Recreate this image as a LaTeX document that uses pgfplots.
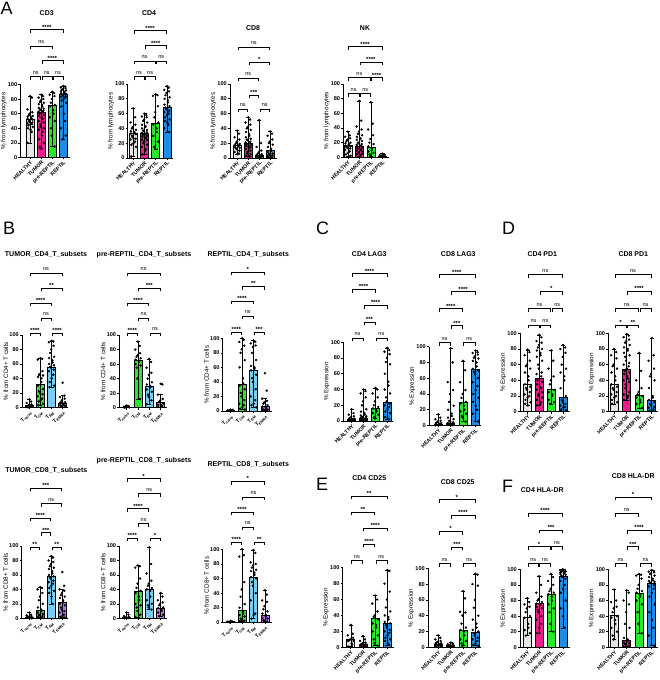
\documentclass[border=0pt]{standalone}
\usepackage{fontspec}
\setmainfont{Liberation Sans}
\usepackage{pgfplots}
\pgfplotsset{compat=1.18}

\definecolor{cH}{RGB}{230,230,230}
\definecolor{cT}{RGB}{240,30,140}
\definecolor{cP}{RGB}{40,235,40}
\definecolor{cR}{RGB}{28,140,232}
\definecolor{cN}{RGB}{215,215,215}
\definecolor{cEM}{RGB}{120,205,245}
\definecolor{cRA}{RGB}{190,120,245}

\newcommand{\fs}[1]{\fontsize{#1}{#1}\selectfont}

\pgfplotsset{
 prism/.style={
  scale only axis, anchor=south west,
  axis lines*=left, ymin=0, ymax=100, ytick={0,20,40,60,80,100},
  xtick={0,1,2,3}, clip=false,
  tick align=outside, major tick length=2pt,
  axis line style={line width=0.6pt},
  tick style={black, line width=0.6pt},
  /pgf/number format/assume math mode=true,
  yticklabel style={font=\bfseries\fs{5.6}, inner sep=1pt},
  xticklabel style={font=\bfseries\fs{5.3}, rotate=45, anchor=north east, inner sep=0.5pt},
  ylabel style={font=\fs{6.3}, inner sep=0pt},
 },
 grpA/.style={xticklabels={HEALTHY,TUMOR,pre-REPTIL,REPTIL}},
 grpB/.style={xticklabels={T\textsubscript{naive},T\textsubscript{CM},T\textsubscript{EM},T\textsubscript{EMRA}}},
}

% x, bar height, colour, error low, error high, points
\newcommand{\grp}[6]{%
 \addplot[ybar, bar shift=0pt, bar width=8pt, fill=#3, draw=black, line width=0.6pt] coordinates {(#1,#2)};
 \addplot[black, line width=0.5pt, mark=-, mark size=2pt, mark options={line width=0.5pt}] coordinates {(#1,#4) (#1,#5)};
 \addplot[only marks, mark=*, mark size=1pt, black] table[row sep=\\, header=false, y index=0, x expr={#1+0.24*sin(\coordindex*137.5)}] {#6};
}
\newcommand{\brN}[3]{%
 \draw[line width=0.5pt] ([yshift=#3pt-3.5pt]axis cs:#1+0.05,100) -- ([yshift=#3pt]axis cs:#1+0.05,100) -- ([yshift=#3pt]axis cs:#2-0.05,100) -- ([yshift=#3pt-3.5pt]axis cs:#2-0.05,100);
 \node[font=\fs{5.5}, anchor=base, inner sep=0pt] at ([yshift=#3pt+2.2pt]axis cs:{(#1+#2)/2},100) {ns};}
\newcommand{\brS}[4]{%
 \draw[line width=0.5pt] ([yshift=#3pt-3.5pt]axis cs:#1+0.05,100) -- ([yshift=#3pt]axis cs:#1+0.05,100) -- ([yshift=#3pt]axis cs:#2-0.05,100) -- ([yshift=#3pt-3.5pt]axis cs:#2-0.05,100);
 \node[font=\bfseries\fs{6}, anchor=base, inner sep=0pt] at ([yshift=#3pt+0.3pt]axis cs:{(#1+#2)/2},100) {#4};}

\begin{document}
\begin{tikzpicture}
\useasboundingbox (0,0) rectangle (660pt,680pt);

% ---------------- panel letters
\node[font=\fs{18}, anchor=base west, inner sep=0pt] at (0.5pt,665pt) {A};
\node[font=\fs{18}, anchor=base west, inner sep=0pt] at (3pt,445pt) {B};
\node[font=\fs{18}, anchor=base west, inner sep=0pt] at (316pt,445pt) {C};
\node[font=\fs{18}, anchor=base west, inner sep=0pt] at (502pt,445pt) {D};
\node[font=\fs{18}, anchor=base west, inner sep=0pt] at (316pt,189pt) {E};
\node[font=\fs{18}, anchor=base west, inner sep=0pt] at (502pt,187pt) {F};

% ---------------- titles
\begin{scope}[every node/.style={font=\bfseries\fs{7}, inner sep=0pt}]
\node at (46.7pt,667.3pt) {CD3};
\node at (149pt,666.7pt) {CD4};
\node at (253pt,651.7pt) {CD8};
\node at (365pt,651.7pt) {NK};
\node at (46pt,425.7pt) {TUMOR\_CD4\_T\_subsets};
\node at (144pt,425.7pt) {pre-REPTIL\_CD4\_T\_subsets};
\node at (248.3pt,425.7pt) {REPTIL\_CD4\_T\_subsets};
\node at (46.3pt,209.3pt) {TUMOR\_CD8\_T\_subsets};
\node at (144pt,219.3pt) {pre-REPTIL\_CD8\_T\_subsets};
\node at (248.3pt,216pt) {REPTIL\_CD8\_T\_subsets};
\node at (369.3pt,425.7pt) {CD4 LAG3};
\node at (458.3pt,425.7pt) {CD8 LAG3};
\node at (542.3pt,425.7pt) {CD4 PD1};
\node at (633.3pt,425.7pt) {CD8 PD1};
\node at (369.3pt,202.3pt) {CD4 CD25};
\node at (457.7pt,198.3pt) {CD8 CD25};
\node at (542.3pt,190pt) {CD4 HLA-DR};
\node at (633.3pt,204pt) {CD8 HLA-DR};
\end{scope}

% ================= A: CD3
\begin{axis}[prism, grpA, at={(20.4pt,522.5pt)}, width=49.7pt, height=73pt, xmin=-0.88, xmax=3.6, ylabel={\% from lymphocytes}]
\grp{0}{53}{cH}{20}{84}{84\\82\\66\\62\\60\\58\\57\\56\\55\\54\\53\\52\\50\\49\\48\\47\\46\\45\\44\\42\\40\\38\\35\\20\\}
\grp{1}{62}{cT}{12}{86}{86\\84\\82\\80\\78\\76\\75\\73\\72\\70\\68\\67\\66\\65\\64\\63\\62\\61\\60\\58\\57\\55\\53\\50\\48\\45\\42\\40\\38\\35\\30\\25\\20\\15\\12\\}
\grp{2}{72}{cP}{15}{90}{90\\88\\86\\84\\80\\75\\72\\70\\65\\60\\55\\50\\40\\30\\15\\}
\grp{3}{86}{cR}{25}{98}{98\\97\\96\\95\\94\\93\\92\\91\\90\\89\\88\\87\\86\\85\\84\\83\\82\\80\\78\\75\\70\\60\\50\\40\\30\\25\\}
\brN{0}{1}{8} \brN{1}{2}{8} \brN{2}{3}{8}
\brS{1}{3}{24}{****}
\brN{0}{2}{38.5}
\brS{0}{3}{55}{****}
\end{axis}

% ================= A: CD4
\begin{axis}[prism, grpA, at={(127.7pt,522pt)}, width=45.4pt, height=74pt, xmin=-0.5, xmax=3.55, ylabel={\% from lymphocytes}]
\grp{0}{33}{cH}{2}{67}{67\\55\\48\\45\\42\\40\\38\\36\\35\\34\\33\\32\\30\\28\\26\\25\\22\\20\\18\\15\\2\\}
\grp{1}{33}{cT}{5}{60}{60\\58\\56\\55\\52\\50\\48\\45\\43\\42\\40\\38\\37\\36\\35\\34\\33\\32\\31\\30\\29\\28\\27\\25\\24\\22\\20\\18\\15\\12\\10\\5\\}
\grp{2}{47}{cP}{12}{86}{86\\85\\84\\70\\62\\55\\48\\45\\40\\35\\30\\22\\15\\12\\}
\grp{3}{68}{cR}{35}{97}{97\\95\\92\\90\\88\\85\\82\\80\\78\\75\\72\\70\\68\\66\\64\\62\\60\\58\\55\\52\\50\\48\\45\\40\\35\\}
\brN{0}{1}{7.3} \brN{1}{2}{7.3}
\brN{0}{2}{23} \brN{2}{3}{23}
\brS{1}{3}{38.3}{****}
\brS{0}{3}{53.3}{****}
\end{axis}

% ================= A: CD8
\begin{axis}[prism, grpA, at={(230pt,522pt)}, width=46.6pt, height=74pt, xmin=-0.66, xmax=3.58, ylabel={\% from lymphocytes}]
\grp{0}{17}{cH}{5}{37}{37\\33\\28\\25\\22\\20\\19\\18\\17\\16\\15\\14\\13\\12\\10\\8\\6\\5\\}
\grp{1}{20}{cT}{2}{55}{55\\52\\48\\45\\42\\40\\38\\35\\32\\30\\28\\26\\25\\24\\22\\21\\20\\19\\18\\17\\16\\15\\14\\12\\10\\8\\6\\5\\3\\2\\}
\grp{2}{4}{cP}{1}{51}{51\\20\\15\\10\\8\\6\\5\\4\\3\\3\\2\\2\\1\\1\\}
\grp{3}{11}{cR}{1}{36}{36\\33\\30\\25\\22\\20\\18\\15\\12\\10\\8\\6\\5\\4\\3\\2\\1\\}
\brN{0}{1}{-25} \brN{2}{3}{-25}
\brS{1}{2}{-11}{***}
\brN{0}{2}{6}
\brS{1}{3}{22}{*}
\brN{0}{3}{37}
\end{axis}

% ================= A: NK
\begin{axis}[prism, grpA, at={(343.3pt,522.7pt)}, width=46pt, height=73.3pt, xmin=-0.4, xmax=3.6, ylabel={\% from lymphocytes}]
\grp{0}{16}{cH}{2}{35}{35\\30\\28\\26\\24\\22\\20\\19\\18\\17\\16\\15\\14\\13\\12\\10\\8\\6\\4\\2\\}
\grp{1}{15}{cT}{2}{77}{77\\50\\42\\38\\35\\32\\30\\28\\26\\25\\24\\22\\20\\19\\18\\17\\16\\15\\14\\13\\12\\11\\10\\9\\8\\7\\6\\5\\4\\3\\2\\}
\grp{2}{14}{cP}{2}{75}{75\\46\\38\\30\\25\\20\\18\\15\\12\\10\\8\\6\\4\\2\\}
\grp{3}{2}{cR}{1}{5}{5\\4\\3\\3\\2\\2\\1\\1\\1\\}
\brN{0}{1}{-9.3} \brN{1}{2}{-9.3}
\brN{0}{2}{6.3} \brS{2}{3}{6.3}{****}
\brS{1}{3}{22}{****}
\brS{0}{3}{37.3}{****}
\end{axis}

% ================= B: TUMOR CD4
\begin{axis}[prism, grpB, at={(22pt,272.7pt)}, width=46.2pt, height=72.3pt, xmin=-0.66, xmax=3.5, ylabel={\% from CD4+ T cells}]
\grp{0}{3}{cN}{0}{11}{11\\8\\6\\4\\3\\2\\2\\1\\1\\1\\0.5\\0.5\\0\\}
\grp{1}{32}{cP}{3}{68}{68\\67\\66\\50\\46\\45\\44\\42\\40\\35\\30\\25\\22\\20\\18\\15\\12\\10\\8\\5\\3\\}
\grp{2}{56}{cEM}{28}{92}{92\\91\\90\\85\\80\\75\\70\\68\\65\\62\\60\\58\\56\\55\\52\\50\\45\\40\\35\\30\\28\\}
\grp{3}{6}{cRA}{0.5}{16}{34\\16\\14\\12\\10\\8\\7\\6\\5\\4\\3\\2\\1\\1\\0.5\\}
\brS{0}{1}{2}{****} \brS{2}{3}{2}{****}
\brN{1}{2}{17}
\brS{0}{2}{32}{****}
\brS{1}{3}{47}{**}
\brN{0}{3}{62}
\end{axis}

% ================= B: pre-REPTIL CD4
\begin{axis}[prism, grpB, at={(119.3pt,272.3pt)}, width=47.5pt, height=72.7pt, xmin=-0.65, xmax=3.55, ylabel={\% from CD4+ T cells}]
\grp{0}{1}{cN}{0}{3}{3\\2\\1.5\\1\\1\\0.5\\0.5\\0\\}
\grp{1}{65}{cP}{12}{91}{91\\85\\80\\75\\72\\70\\68\\66\\65\\63\\60\\58\\55\\40\\12\\}
\grp{2}{30}{cEM}{5}{67}{67\\63\\55\\48\\45\\40\\35\\32\\30\\28\\25\\22\\18\\15\\10\\5\\}
\grp{3}{8}{cRA}{1}{18}{33\\32\\18\\12\\10\\8\\6\\4\\3\\2\\1\\}
\brS{0}{1}{2}{****} \brN{2}{3}{2}
\brN{1}{2}{17}
\brS{0}{2}{32}{****}
\brS{1}{3}{47}{***}
\brN{0}{3}{62}
\end{axis}

% ================= B: REPTIL CD4
\begin{axis}[prism, grpB, at={(222.7pt,269pt)}, width=49pt, height=72.7pt, xmin=-0.7, xmax=3.6, ylabel={\% from CD4+ T cells}]
\grp{0}{1}{cN}{0}{2}{2\\1.5\\1\\1\\0.5\\0.5\\0\\}
\grp{1}{37}{cP}{2}{100}{100\\98\\95\\90\\85\\80\\70\\60\\45\\38\\35\\30\\25\\20\\15\\10\\8\\5\\3\\2\\}
\grp{2}{56}{cEM}{5}{97}{97\\95\\93\\90\\88\\80\\70\\62\\60\\58\\56\\50\\45\\40\\30\\20\\15\\10\\8\\5\\}
\grp{3}{6}{cRA}{0.5}{17}{52\\28\\17\\14\\12\\10\\8\\6\\5\\4\\3\\2\\1\\1\\0.5\\}
\brS{0}{1}{6.3}{****} \brS{2}{3}{6.3}{***}
\brN{1}{2}{22.3}
\brS{0}{2}{37.3}{****}
\brS{1}{3}{52}{**}
\brS{0}{3}{66.3}{*}
\end{axis}

% ================= B: TUMOR CD8
\begin{axis}[prism, grpB, at={(21.7pt,61.7pt)}, width=46.6pt, height=72.3pt, xmin=-0.69, xmax=3.55, ylabel={\% from CD8+ T cells}]
\grp{0}{2}{cN}{0}{8}{8\\5\\4\\3\\2\\2\\1\\1\\1\\0.5\\0.5\\0\\}
\grp{1}{11}{cP}{1}{43}{43\\42\\40\\35\\30\\25\\20\\15\\12\\10\\8\\6\\5\\4\\3\\2\\1\\}
\grp{2}{58}{cEM}{20}{86}{86\\84\\80\\78\\75\\72\\70\\68\\65\\62\\60\\58\\57\\55\\52\\50\\48\\45\\42\\38\\35\\30\\20\\}
\grp{3}{22}{cRA}{1}{40}{64\\45\\40\\38\\35\\32\\30\\28\\25\\22\\20\\18\\15\\12\\10\\8\\5\\3\\2\\1\\}
\brS{0}{1}{-1}{**} \brS{2}{3}{-1}{**}
\brS{1}{2}{13.3}{***}
\brS{0}{2}{28}{****}
\brN{1}{3}{42.3}
\brS{0}{3}{58}{***}
\end{axis}

% ================= B: pre-REPTIL CD8
\begin{axis}[prism, grpB, at={(119.3pt,61.7pt)}, width=47.5pt, height=72.3pt, xmin=-0.65, xmax=3.55, ylabel={\% from CD8+ T cells}]
\grp{0}{2}{cN}{0}{8}{8\\5\\3\\2\\1\\1\\0.5\\0\\}
\grp{1}{38}{cP}{2}{73}{73\\72\\70\\55\\48\\42\\38\\35\\30\\25\\20\\18\\15\\10\\5\\2\\}
\grp{2}{40}{cEM}{12}{98}{98\\75\\62\\52\\48\\45\\42\\40\\38\\30\\25\\20\\18\\15\\12\\}
\grp{3}{14}{cRA}{3}{35}{35\\30\\25\\22\\20\\18\\15\\14\\12\\10\\8\\5\\3\\}
\brS{0}{1}{8}{****} \brS{2}{3}{8}{*}
\brN{1}{2}{22.3}
\brS{0}{2}{37.3}{****}
\brN{1}{3}{52.3}
\brS{0}{3}{67.3}{*}
\end{axis}

% ================= B: REPTIL CD8
\begin{axis}[prism, grpB, at={(222.7pt,57.7pt)}, width=49pt, height=73pt, xmin=-0.7, xmax=3.6, ylabel={\% from CD8+ T cells}]
\grp{0}{1}{cN}{0}{2}{2\\1\\1\\0.5\\0.5\\0\\}
\grp{1}{16}{cP}{1}{100}{100\\92\\90\\55\\45\\35\\25\\20\\15\\12\\10\\8\\5\\3\\2\\1\\}
\grp{2}{62}{cEM}{5}{99}{99\\95\\82\\80\\78\\75\\72\\70\\68\\65\\62\\60\\55\\50\\40\\30\\12\\10\\5\\}
\grp{3}{10}{cRA}{1}{44}{44\\38\\30\\28\\22\\18\\15\\12\\10\\8\\6\\5\\3\\2\\1\\}
\brS{0}{1}{7.3}{****} \brS{2}{3}{7.3}{**}
\brN{1}{2}{22.3}
\brS{0}{2}{37.3}{****}
\brN{1}{3}{52.3}
\brS{0}{3}{68}{*}
\end{axis}

% ================= C: CD4 LAG3
\begin{axis}[prism, grpA, at={(343.3pt,259pt)}, width=50pt, height=78.7pt, xmin=-0.7, xmax=3.5, ylabel={\% Expression}]
\grp{0}{2}{cH}{0}{15}{15\\10\\8\\6\\5\\4\\3\\3\\2\\2\\2\\1\\1\\1\\1\\0.5\\0.5\\0\\}
\grp{1}{3}{cT}{0.5}{40}{40\\38\\35\\30\\25\\20\\15\\12\\10\\8\\7\\6\\5\\5\\4\\4\\3\\3\\2\\2\\2\\1\\1\\1\\0.5\\0.5\\}
\grp{2}{16}{cP}{3}{42}{42\\40\\35\\30\\25\\20\\18\\16\\14\\12\\10\\8\\5\\3\\}
\grp{3}{24}{cR}{2}{93}{93\\90\\88\\85\\80\\75\\72\\60\\50\\45\\40\\35\\30\\25\\22\\20\\18\\15\\12\\10\\5\\3\\2\\}
\brN{0}{1}{4.3} \brN{2}{3}{4.3}
\brS{1}{2}{20.3}{***}
\brS{1}{3}{37}{****}
\brS{0}{2}{53}{****}
\brS{0}{3}{68.6}{****}
\end{axis}

% ================= C: CD8 LAG3
\begin{axis}[prism, grpA, at={(429pt,254.5pt)}, width=52.1pt, height=78.8pt, xmin=-0.75, xmax=3.45, ylabel={\% Expression}]
\grp{0}{2}{cH}{0}{14}{14\\10\\8\\6\\5\\4\\3\\3\\2\\2\\1\\1\\1\\0.5\\0.5\\0\\}
\grp{1}{3}{cT}{0.5}{98}{98\\80\\55\\45\\40\\30\\25\\20\\15\\12\\10\\8\\6\\5\\4\\3\\3\\2\\2\\1\\1\\0.5\\0.5\\}
\grp{2}{30}{cP}{5}{82}{82\\70\\55\\45\\40\\35\\30\\28\\25\\20\\18\\15\\12\\10\\5\\}
\grp{3}{71}{cR}{5}{95}{95\\93\\92\\90\\88\\86\\85\\82\\80\\75\\72\\70\\68\\65\\60\\55\\50\\45\\40\\35\\30\\25\\20\\15\\5\\}
\brN{0}{1}{4} \brN{2}{3}{4}
\brS{1}{2}{21}{***}
\brS{0}{2}{38}{****}
\brS{1}{3}{55}{****}
\brS{0}{3}{72}{****}
\end{axis}

% ================= D: CD4 PD1
\begin{axis}[prism, grpA, at={(520pt,268.3pt)}, width=50pt, height=78.4pt, xmin=-0.63, xmax=3.57, ylabel={\% Expression}]
\grp{0}{35}{cH}{8}{79}{79\\76\\72\\65\\60\\58\\55\\50\\45\\40\\35\\32\\30\\28\\25\\22\\20\\18\\15\\12\\10\\8\\}
\grp{1}{42}{cT}{8}{98}{98\\95\\90\\88\\85\\82\\80\\78\\75\\72\\70\\65\\60\\55\\50\\48\\45\\42\\40\\38\\35\\32\\30\\28\\25\\22\\20\\18\\15\\12\\10\\8\\}
\grp{2}{28}{cP}{10}{78}{78\\65\\55\\45\\40\\35\\28\\25\\22\\20\\15\\12\\10\\}
\grp{3}{18}{cR}{1}{85}{85\\82\\80\\75\\70\\60\\55\\50\\45\\40\\30\\20\\15\\12\\10\\8\\6\\5\\3\\2\\1\\}
\brN{0}{1}{8.3} \brN{1}{2}{8.3}
\brN{0}{2}{25} \brN{2}{3}{25}
\brS{1}{3}{42}{*}
\brN{0}{3}{58.6}
\end{axis}

% ================= D: CD8 PD1
\begin{axis}[prism, grpA, at={(608.3pt,268.3pt)}, width=49.6pt, height=78.4pt, xmin=-0.47, xmax=3.5, ylabel={\% Expression}]
\grp{0}{35}{cH}{10}{80}{80\\76\\72\\68\\60\\58\\55\\50\\45\\40\\35\\32\\30\\28\\25\\22\\20\\18\\15\\12\\10\\}
\grp{1}{54}{cT}{15}{99}{99\\97\\95\\92\\90\\88\\85\\82\\80\\78\\75\\72\\70\\65\\62\\60\\58\\55\\52\\50\\48\\45\\42\\40\\38\\35\\30\\25\\22\\20\\18\\15\\}
\grp{2}{21}{cP}{5}{75}{75\\52\\40\\30\\25\\22\\20\\18\\15\\12\\10\\5\\}
\grp{3}{14}{cR}{1}{94}{94\\72\\65\\55\\48\\45\\40\\30\\20\\18\\15\\12\\10\\8\\6\\5\\3\\2\\1\\}
\brS{0}{1}{8.3}{*} \brS{1}{2}{8.3}{**}
\brN{0}{2}{25} \brN{2}{3}{25}
\brS{1}{3}{42}{****}
\brN{0}{3}{58.6}
\end{axis}

% ================= E: CD4 CD25
\begin{axis}[prism, grpA, at={(342.7pt,32.7pt)}, width=50.8pt, height=79.6pt, xmin=-0.66, xmax=3.5, ylabel={\% Expression}]
\grp{0}{10}{cH}{1}{28}{28\\17\\15\\12\\10\\9\\8\\8\\5\\3\\1\\}
\grp{1}{4}{cT}{0.5}{14}{14\\10\\8\\6\\5\\4\\4\\3\\3\\2\\2\\1\\1\\0.5\\}
\grp{2}{37}{cP}{2}{65}{65\\60\\55\\45\\40\\38\\35\\30\\28\\25\\20\\15\\10\\5\\2\\}
\grp{3}{30}{cR}{3}{97}{97\\96\\80\\70\\60\\50\\45\\40\\38\\35\\32\\30\\28\\25\\22\\20\\18\\15\\12\\10\\8\\5\\3\\}
\brN{0}{1}{7} \brN{2}{3}{7}
\brS{1}{2}{23.7}{****}
\brS{1}{3}{39.7}{****}
\brS{0}{2}{55.7}{**}
\brS{0}{3}{71.7}{**}
\end{axis}

% ================= E: CD8 CD25
\begin{axis}[prism, grpA, at={(428pt,32.7pt)}, width=53pt, height=79pt, xmin=-0.83, xmax=3.45, ylabel={\% Expression}]
\grp{0}{4}{cH}{0.5}{15}{15\\12\\10\\8\\7\\6\\5\\5\\4\\3\\3\\2\\2\\1\\1\\0.5\\}
\grp{1}{2}{cT}{0.5}{6}{6\\5\\4\\3\\3\\2\\2\\2\\1\\1\\1\\0.5\\0.5\\}
\grp{2}{22}{cP}{2}{71}{71\\62\\45\\44\\40\\30\\25\\22\\20\\15\\10\\8\\5\\2\\}
\grp{3}{19}{cR}{2}{93}{93\\92\\80\\78\\60\\50\\40\\35\\30\\25\\22\\20\\18\\15\\12\\10\\8\\5\\3\\2\\}
\brN{0}{1}{4.6} \brN{2}{3}{4.6}
\brS{1}{2}{21.3}{***}
\brS{0}{2}{37}{*}
\brS{1}{3}{53}{****}
\brS{0}{3}{68.6}{*}
\end{axis}

% ================= F: CD4 HLA-DR
\begin{axis}[prism, grpA, at={(520pt,32.7pt)}, width=49.7pt, height=78pt, xmin=-0.61, xmax=3.57, ylabel={\% Expression}]
\grp{0}{39}{cH}{15}{63}{63\\58\\55\\52\\50\\45\\40\\38\\30\\25\\22\\18\\15\\}
\grp{1}{56}{cT}{18}{91}{91\\80\\70\\65\\62\\60\\58\\56\\55\\54\\52\\50\\48\\45\\40\\35\\30\\25\\18\\}
\grp{2}{68}{cP}{20}{94}{94\\90\\85\\80\\75\\72\\70\\68\\65\\60\\55\\50\\45\\30\\20\\}
\grp{3}{91}{cR}{25}{100}{100\\99\\99\\98\\98\\97\\97\\96\\95\\95\\94\\93\\92\\90\\88\\85\\80\\75\\70\\60\\50\\40\\25\\}
\brN{0}{1}{6} \brN{1}{2}{6}
\brS{0}{2}{22.6}{*} \brN{2}{3}{22.6}
\brS{1}{3}{39.5}{***}
\brS{0}{3}{56}{****}
\end{axis}

% ================= F: CD8 HLA-DR
\begin{axis}[prism, grpA, at={(608.3pt,32.7pt)}, width=49.6pt, height=78pt, xmin=-0.47, xmax=3.5, ylabel={\% Expression}]
\grp{0}{41}{cH}{10}{74}{74\\60\\58\\52\\50\\45\\40\\38\\35\\30\\25\\20\\15\\10\\}
\grp{1}{9}{cT}{1}{73}{73\\70\\60\\55\\45\\30\\25\\12\\10\\8\\6\\5\\4\\3\\2\\1\\}
\grp{2}{69}{cP}{18}{94}{94\\93\\92\\88\\80\\75\\72\\70\\68\\65\\60\\55\\45\\30\\18\\}
\grp{3}{82}{cR}{2}{99}{99\\98\\97\\96\\95\\94\\92\\90\\88\\86\\85\\84\\83\\82\\80\\78\\75\\70\\65\\55\\45\\35\\25\\15\\2\\}
\brN{0}{1}{6} \brN{2}{3}{6}
\brS{1}{2}{22.6}{***}
\brS{1}{3}{39.2}{****}
\brN{0}{2}{55.8}
\brS{0}{3}{72.4}{*}
\end{axis}

\end{tikzpicture}
\end{document}
